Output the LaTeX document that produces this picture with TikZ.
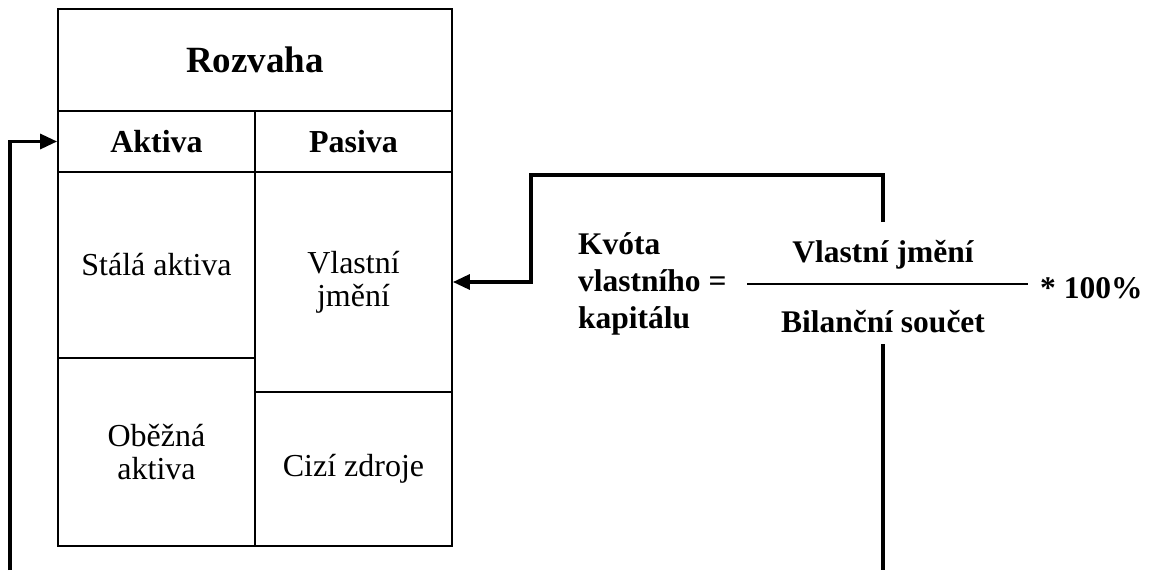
\documentclass[tikz,border=0pt]{standalone}
\usepackage{fontspec}
\setmainfont{Liberation Serif}
\usetikzlibrary{arrows.meta}
\begin{document}
\begin{tikzpicture}[x=1pt,y=-1pt,
  cell/.style={draw, line width=1.8pt, inner sep=0pt, align=center,
    font=\fontsize{32}{33}\selectfont},
  headcell/.style={cell, font=\fontsize{32}{36}\selectfont\bfseries},
  conn/.style={line width=3.2pt, -{Triangle[length=17pt,width=15pt]}},
  plain/.style={line width=3.2pt},
  formula/.style={inner sep=0pt, font=\fontsize{31.5}{37}\selectfont\bfseries}]
\useasboundingbox (0,0) rectangle (1150,570);

% balance sheet table
\node[cell, minimum width=394pt, minimum height=102pt,
  font=\fontsize{37}{40}\selectfont\bfseries] (roz) at (255,60) {Rozvaha};
\node[headcell, minimum width=197pt, minimum height=61pt] (akt) at (156.5,141.5) {Aktiva};
\node[headcell, minimum width=197pt, minimum height=61pt] (pas) at (353.5,141.5) {Pasiva};
\node[cell, minimum width=197pt, minimum height=186pt] (sta) at (156.5,265) {Stálá aktiva};
\node[cell, minimum width=197pt, minimum height=188pt] (obe) at (156.5,452) {Oběžná\\aktiva};
\node[cell, minimum width=197pt, minimum height=220pt] (vla) at (353.5,282) {Vlastní\\jmění};
\node[cell, minimum width=197pt, minimum height=154pt] (ciz) at (353.5,469) {Cizí zdroje};

% formula
\node[formula, anchor=west, align=left] (kvo) at (578,284) {Kvóta\\vlastního =\\kapitálu};
\node[formula] (num) at (883,255) {Vlastní jmění};
\node[formula] (den) at (883,322) {Bilanční součet};
\node[formula, anchor=west] (pct) at (1040,288) {* 100\%};
\coordinate (fl) at (747,284);
\coordinate (fr) at (1028,284);
\draw[line width=1.8pt] (fl) -- (fr);

% connectors
\coordinate (lb) at (10,570);
\draw[conn] (lb) |- (akt.west);

\coordinate (ntop) at (883,222);
\coordinate (bend) at (531,175);
\draw[conn] (ntop) |- (bend) |- (vla.east);

\coordinate (dtop) at (883,344);
\coordinate (dbot) at (883,570);
\draw[plain] (dtop) -- (dbot);
\end{tikzpicture}
\end{document}
